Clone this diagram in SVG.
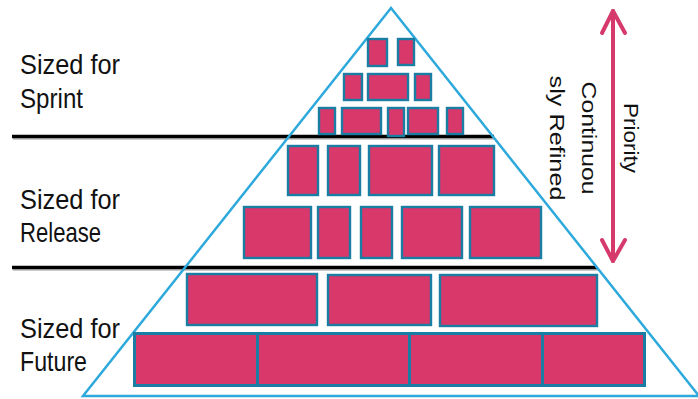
<svg xmlns="http://www.w3.org/2000/svg" width="698" height="399" viewBox="0 0 698 399">
<style>
.blk{fill:#D8386A;stroke:#1A7DA4;stroke-width:2.4}
.blk3{fill:#D8386A;stroke:#1A7DA4;stroke-width:3}
.lbl{font-family:"Liberation Sans",Arial,sans-serif;font-size:28px;fill:#111}
.rot{font-family:"Liberation Sans",Arial,sans-serif;font-size:20px;fill:#111}
.sep{stroke:#000;stroke-width:3.5}
.sepsh{stroke:#999;stroke-width:3;opacity:0.5}
.arr{stroke:#D6396C;stroke-width:4;fill:none;stroke-linecap:round;stroke-linejoin:round}
</style>
<rect width="698" height="399" fill="#fff"/>
<g id="separators">
<line class="sepsh" x1="13" y1="138.5" x2="495" y2="138.5"/>
<line class="sep" x1="12" y1="136.5" x2="494" y2="136.5"/>
<line class="sepsh" x1="13" y1="269.5" x2="598" y2="269.5"/>
<line class="sep" x1="12" y1="267.5" x2="597" y2="267.5"/>
</g>
<g id="pyramid">
<polygon points="391,8 83,396 699,396" fill="none" stroke="#2EA9DC" stroke-width="2.5" stroke-linejoin="miter"/>
</g>
<g id="row1">
<rect class="blk" x="368" y="39" width="19" height="27"/>
<rect class="blk" x="398" y="39" width="16" height="26"/>
</g>
<g id="row2">
<rect class="blk" x="344" y="74" width="18" height="26"/>
<rect class="blk" x="368" y="74" width="40" height="26"/>
<rect class="blk" x="415" y="74" width="16" height="26"/>
</g>
<g id="row3">
<rect class="blk" x="319" y="108" width="16" height="26"/>
<rect class="blk" x="342" y="108" width="39" height="26"/>
<rect class="blk" x="388" y="108" width="16" height="28"/>
<rect class="blk" x="408" y="108" width="30" height="26"/>
<rect class="blk" x="447" y="108" width="16" height="26"/>
</g>
<g id="row4">
<rect class="blk" x="288" y="146" width="30" height="49"/>
<rect class="blk" x="328" y="146" width="32" height="49"/>
<rect class="blk" x="369" y="146" width="63" height="49"/>
<rect class="blk" x="439" y="146" width="55" height="49"/>
</g>
<g id="row5">
<rect class="blk" x="244" y="207" width="67" height="51"/>
<rect class="blk" x="318" y="207" width="32" height="51"/>
<rect class="blk" x="361" y="207" width="31" height="51"/>
<rect class="blk" x="402" y="207" width="60" height="51"/>
<rect class="blk" x="470" y="207" width="71" height="51"/>
</g>
<g id="row6">
<rect class="blk" x="187" y="274" width="130" height="51"/>
<rect class="blk" x="328" y="275" width="103" height="50"/>
<rect class="blk" x="440" y="275" width="157" height="51"/>
</g>
<g id="row7">
<rect class="blk3" x="134.5" y="333.5" width="123" height="52"/>
<rect class="blk3" x="257.5" y="333.5" width="152" height="52"/>
<rect class="blk3" x="409.5" y="333.5" width="133" height="52"/>
<rect class="blk3" x="542.5" y="333.5" width="102" height="52"/>
</g>
<g id="label-sprint">
<text class="lbl" x="20" y="74" textLength="100" lengthAdjust="spacingAndGlyphs">Sized for</text>
<text class="lbl" x="20" y="108" textLength="63" lengthAdjust="spacingAndGlyphs">Sprint</text>
</g>
<g id="label-release">
<text class="lbl" x="20" y="209" textLength="100" lengthAdjust="spacingAndGlyphs">Sized for</text>
<text class="lbl" x="20" y="242" textLength="81" lengthAdjust="spacingAndGlyphs">Release</text>
</g>
<g id="label-future">
<text class="lbl" x="20" y="338" textLength="100" lengthAdjust="spacingAndGlyphs">Sized for</text>
<text class="lbl" x="20" y="371" textLength="67" lengthAdjust="spacingAndGlyphs">Future</text>
</g>
<g id="connectors">
<line class="arr" x1="613" y1="11" x2="613" y2="261"/>
<polyline class="arr" points="602,33 613,11 625,33"/>
<polyline class="arr" points="602,240 613,261 625,240"/>
</g>
<g id="label-priority">
<text class="rot" transform="translate(624,138) rotate(90)" text-anchor="middle" textLength="70" lengthAdjust="spacingAndGlyphs">Priority</text>
<text class="rot" transform="translate(582,138) rotate(90)" text-anchor="middle" textLength="113" lengthAdjust="spacingAndGlyphs">Continuou</text>
<text class="rot" transform="translate(550,138) rotate(90)" text-anchor="middle" textLength="125" lengthAdjust="spacingAndGlyphs">sly  Refined</text>
</g>
</svg>
